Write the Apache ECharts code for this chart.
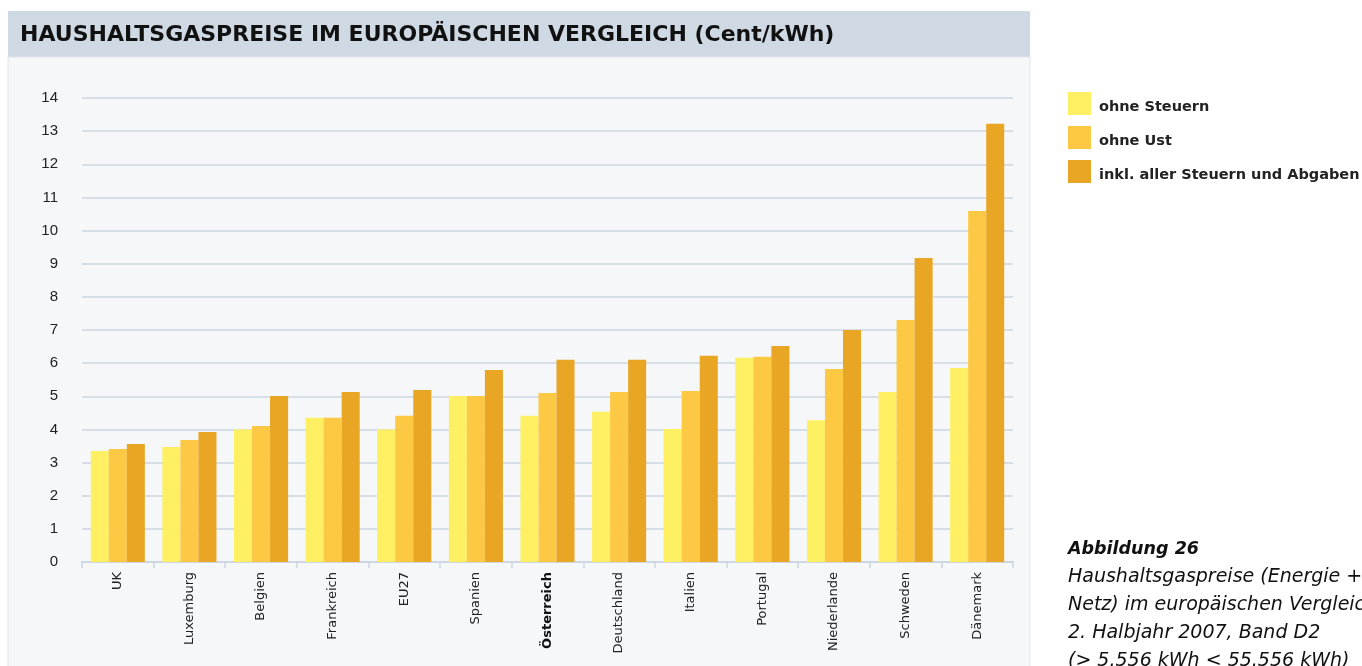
<!DOCTYPE html>
<html><head><meta charset="utf-8">
<script src="https://cdn.jsdelivr.net/npm/echarts@6/dist/echarts.min.js"></script>
<style>html,body{margin:0;padding:0;background:#fff}#c{width:1362px;height:666px}</style>
</head><body><div id="c"></div>
<script>
const categories = ['UK','Luxemburg','Belgien','Frankreich','EU27','Spanien','Österreich','Deutschland','Italien','Portugal','Niederlande','Schweden','Dänemark'];
const ohneSteuern = [3.35,3.47,4.00,4.35,4.00,5.01,4.41,4.53,4.01,6.16,4.28,5.13,5.85];
const ohneUst     = [3.41,3.68,4.10,4.35,4.41,5.01,5.10,5.13,5.16,6.19,5.82,7.30,10.59];
const inklAller   = [3.56,3.92,5.01,5.13,5.19,5.79,6.10,6.10,6.22,6.52,7.00,9.17,13.22];
const seriesNames = ['ohne Steuern','ohne Ust','inkl. aller Steuern und Abgaben'];
const yTicks = [0,1,2,3,4,5,6,7,8,9,10,11,12,13,14];
const titleText = 'HAUSHALTSGASPREISE IM EUROPÄISCHEN VERGLEICH (Cent/kWh)';
const captionHead = 'Abbildung 26';
const captionLines = ['Haushaltsgaspreise (Energie +','Netz) im europäischen Vergleich,','2. Halbjahr 2007, Band D2','(> 5.556 kWh < 55.556 kWh)'];

const colors = ['#fef062','#fdc844','#e8a624'];
const chart = echarts.init(document.getElementById('c'));
const arial = '"Liberation Sans", Arial, sans-serif';
const dejavu = '"DejaVu Sans", Verdana, sans-serif';
const captionEls = captionLines.map((t,i)=>({type:'text',x:1068,y:577+i*28,
  style:{text:t,fill:'#111',font:'italic 19px '+dejavu,verticalAlign:'middle'}}));
chart.setOption({
  animation:false,
  backgroundColor:'#ffffff',
  textStyle:{fontFamily:arial},
  graphic:[
    {type:'rect',z:-10,shape:{x:8,y:11,width:1022,height:46},style:{fill:'#cfd9e3'}},
    {type:'rect',z:-10,shape:{x:8,y:57,width:1022,height:620},style:{fill:'#f5f7f9',stroke:'#dfe5ec',lineWidth:1}},
    {type:'text',x:20,y:35,style:{text:titleText,fill:'#111',font:'bold 22px '+dejavu,verticalAlign:'middle'}},
    {type:'text',x:1068,y:549,style:{text:captionHead,fill:'#111',font:'italic bold 17.5px '+dejavu,verticalAlign:'middle'}}
  ].concat(captionEls),
  legend:{
    orient:'vertical',left:1068,top:92,padding:0,itemWidth:23,itemHeight:23,itemGap:11,
    icon:'rect',
    formatter:n=>'{a|'+n+'}',
    textStyle:{fontSize:14.5,fontWeight:'bold',color:'#222',fontFamily:dejavu,
      rich:{a:{fontSize:14.5,fontWeight:'bold',color:'#222',fontFamily:dejavu,padding:[7,0,0,3]}}},
    data:seriesNames
  },
  grid:{left:82,right:349,top:98,bottom:104,containLabel:false},
  xAxis:{
    type:'category',data:categories,
    axisLine:{lineStyle:{color:'#cdd6e1',width:2}},
    axisTick:{show:true,length:6,lineStyle:{color:'#cdd6e1',width:1.5}},
    axisLabel:{rotate:90,fontSize:13,color:'#222',margin:10,fontFamily:dejavu,
      formatter:v=>v==='Österreich'?'{b|'+v+'}':v,
      rich:{b:{fontWeight:'bold',fontSize:13,color:'#111',fontFamily:dejavu}}}
  },
  yAxis:{
    type:'value',min:0,max:14,interval:1,
    axisLine:{show:false},axisTick:{show:false},
    axisLabel:{fontSize:15,color:'#222',margin:24,fontFamily:arial},
    splitLine:{lineStyle:{color:'#d6dee8',width:2}}
  },
  series:[
    {name:seriesNames[0],type:'bar',data:ohneSteuern,itemStyle:{color:colors[0]},barGap:'0%',barCategoryGap:'24.5%'},
    {name:seriesNames[1],type:'bar',data:ohneUst,itemStyle:{color:colors[1]},barGap:'0%',barCategoryGap:'24.5%'},
    {name:seriesNames[2],type:'bar',data:inklAller,itemStyle:{color:colors[2]},barGap:'0%',barCategoryGap:'24.5%'}
  ]
});
</script></body></html>
